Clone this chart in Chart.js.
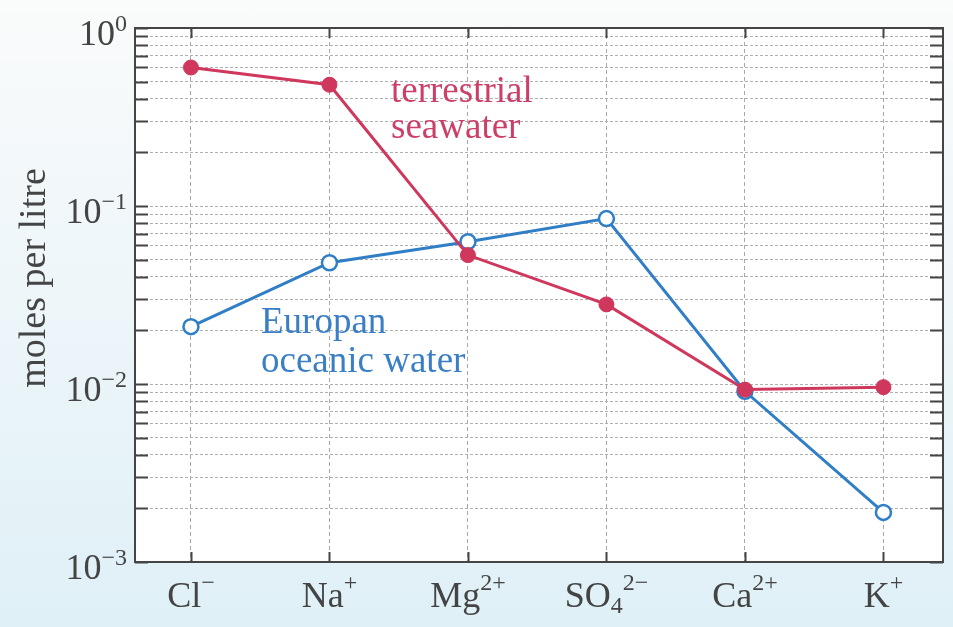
<!DOCTYPE html>
<html><head><meta charset="utf-8">
<script src="https://cdn.jsdelivr.net/npm/chart.js@4.4.0/dist/chart.umd.min.js"></script>
<style>
html,body{margin:0;padding:0;}
body{width:953px;height:627px;background:linear-gradient(180deg,#fafbfb 0%,#eef6f9 45%,#dff0f7 100%);overflow:hidden}
#wrap{position:relative;width:953px;height:627px}
canvas{display:block}
</style></head><body><div id="wrap"><canvas id="c" width="953" height="627" style="width:953px;height:627px"></canvas></div>
<script>
// ---- data ----
const categories = ['Cl⁻','Na⁺','Mg²⁺','SO₄²⁻','Ca²⁺','K⁺'];
const categoryBase = ['Cl','Na','Mg','SO','Ca','K'];
const categorySub  = ['','','','4','',''];
const categorySup  = ['−','+','2+','2−','2+','+'];
const terrestrialSeawater = [0.60, 0.48, 0.053, 0.028, 0.0093, 0.0096];
const europanOceanicWater = [0.021, 0.048, 0.063, 0.085, 0.0091, 0.0019];
const yTickExponents = [0, -1, -2, -3];
const yMinorMultipliers = [2,3,4,5,6,7,8,9];
const yTitle = 'moles per litre';
const annotTerrestrial = ['terrestrial','seawater'];
const annotEuropan = ['Europan','oceanic water'];

const RED = '#d0375c', BLUE = '#2f7ec6';
const SERIF = '"Liberation Serif","DejaVu Serif",serif';

const yTickValues = [];
for (let e = -3; e < 0; e++) {
  yTickValues.push(Math.pow(10, e));
  yMinorMultipliers.forEach(m => yTickValues.push(m * Math.pow(10, e)));
}
yTickValues.push(1);

const toPoints = arr => arr.map((v, i) => ({x: i, y: v}));

const decorPlugin = {
  id: 'decor',
  beforeDraw(chart) {
    const {ctx, chartArea: a} = chart;
    ctx.save();
    ctx.fillStyle = '#ffffff';
    ctx.fillRect(a.left, a.top, a.right - a.left, a.bottom - a.top);
    ctx.restore();
  },
  beforeDatasetsDraw(chart) {
    const {ctx, chartArea: a, scales: {x, y}} = chart;
    ctx.save();
    ctx.strokeStyle = '#454545';
    ctx.lineWidth = 2;
    yTickValues.forEach(v => {
      const py = Math.round(y.getPixelForValue(v)) + 0.5;
      const len = 13;
      ctx.beginPath();
      ctx.moveTo(a.left, py); ctx.lineTo(a.left + len, py);
      ctx.moveTo(a.right, py); ctx.lineTo(a.right - len, py);
      ctx.stroke();
    });
    categories.forEach((c, i) => {
      const px = Math.round(x.getPixelForValue(i)) + 0.5;
      ctx.beginPath();
      ctx.moveTo(px, a.bottom); ctx.lineTo(px, a.bottom - 10);
      ctx.moveTo(px, a.top); ctx.lineTo(px, a.top + 10);
      ctx.stroke();
    });
    ctx.restore();
  },
  afterDraw(chart) {
    const {ctx, chartArea: a, scales: {x, y}} = chart;
    ctx.save();
    // frame
    ctx.strokeStyle = '#454545';
    ctx.lineWidth = 2;
    ctx.strokeRect(a.left, a.top, a.right - a.left, a.bottom - a.top);
    // y labels
    ctx.fillStyle = '#444';
    ctx.textBaseline = 'alphabetic';
    ctx.textAlign = 'left';
    const baseFont = '36px ' + SERIF, supFont = '24px ' + SERIF;
    yTickExponents.forEach(e => {
      const py = y.getPixelForValue(Math.pow(10, e));
      const sup = e === 0 ? '0' : '−' + (-e);
      ctx.font = supFont; const sw = ctx.measureText(sup).width;
      ctx.font = baseFont; const bw = ctx.measureText('10').width;
      const right = 127;
      const by = py + 17;
      ctx.fillText('10', right - sw - bw, by);
      ctx.font = supFont;
      ctx.fillText(sup, right - sw, by - 14);
    });
    // x labels
    categories.forEach((c, i) => {
      const px = x.getPixelForValue(i);
      ctx.font = baseFont; const bw = ctx.measureText(categoryBase[i]).width;
      ctx.font = supFont;
      const subw = ctx.measureText(categorySub[i]).width;
      const supw = ctx.measureText(categorySup[i]).width;
      const total = bw + subw + supw;
      let sx = px - total / 2;
      const by = a.bottom + 45;
      ctx.font = baseFont; ctx.fillText(categoryBase[i], sx, by); sx += bw;
      ctx.font = supFont;
      if (categorySub[i]) { ctx.fillText(categorySub[i], sx, by + 6); sx += subw; }
      ctx.fillText(categorySup[i], sx, by - 17);
    });
    // y title
    ctx.save();
    ctx.font = '38px ' + SERIF;
    ctx.textAlign = 'center';
    ctx.translate(45, 278);
    ctx.rotate(-Math.PI / 2);
    ctx.fillText(yTitle, 0, 0);
    ctx.restore();
    // annotations
    ctx.font = '37px ' + SERIF;
    ctx.textAlign = 'left';
    ctx.fillStyle = '#cc4068';
    ctx.fillText(annotTerrestrial[0], 391, 102);
    ctx.fillText(annotTerrestrial[1], 391, 138);
    ctx.fillStyle = '#3a7fc6';
    ctx.fillText(annotEuropan[0], 261, 333);
    ctx.fillText(annotEuropan[1], 261, 372);
    ctx.restore();
  }
};

new Chart(document.getElementById('c'), {
  type: 'line',
  data: {
    datasets: [
      {
        label: 'terrestrial seawater',
        data: toPoints(terrestrialSeawater),
        borderColor: RED, backgroundColor: RED,
        borderWidth: 3,
        pointRadius: 7.5, pointHoverRadius: 7.5,
        pointBackgroundColor: RED, pointBorderColor: RED, pointBorderWidth: 1,
        tension: 0
      },
      {
        label: 'Europan oceanic water',
        data: toPoints(europanOceanicWater),
        borderColor: BLUE, backgroundColor: '#fff',
        borderWidth: 3,
        pointRadius: 7.5, pointHoverRadius: 7.5,
        pointBackgroundColor: '#ffffff', pointBorderColor: BLUE, pointBorderWidth: 2.5,
        tension: 0
      }
    ]
  },
  options: {
    responsive: false,
    animation: false,
    devicePixelRatio: 1,
    layout: {padding: {left: 135, top: 28, right: 10, bottom: 65}},
    plugins: {legend: {display: false}, tooltip: {enabled: false}},
    scales: {
      x: {
        type: 'linear', min: -0.404, max: 5.43,
        afterBuildTicks: s => { s.ticks = categories.map((c, i) => ({value: i})); },
        ticks: {display: false},
        grid: {color: '#a8a8a8', lineWidth: 1, drawTicks: false},
        border: {display: false, dash: [4, 3]}
      },
      y: {
        type: 'logarithmic', min: 0.001, max: 1,
        afterBuildTicks: s => { s.ticks = yTickValues.map(v => ({value: v})); },
        ticks: {display: false},
        grid: {color: '#b0b0b0', lineWidth: 1, drawTicks: false},
        border: {display: false, dash: [3, 2]}
      }
    }
  },
  plugins: [decorPlugin]
});
</script></body></html>
